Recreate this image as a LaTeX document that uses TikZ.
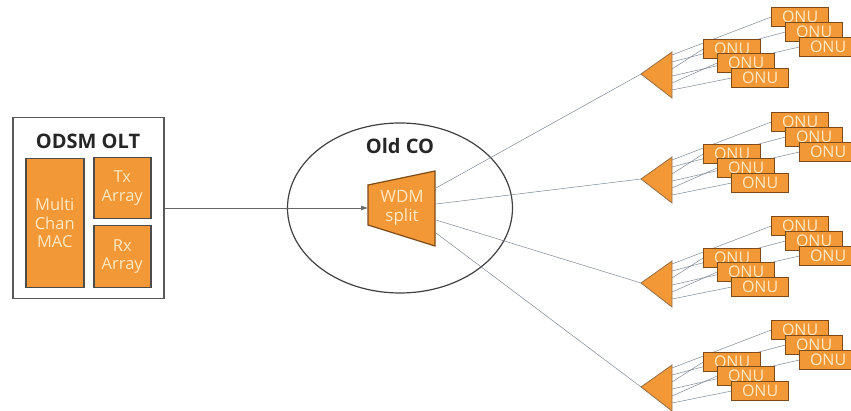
\documentclass[tikz,border=0pt]{standalone}
\usepackage{fontspec}
\setmainfont{Open Sans}
\usetikzlibrary{shapes.geometric,arrows.meta,backgrounds}
\definecolor{odsmorange}{RGB}{242,152,54}
\definecolor{odsmedge}{RGB}{125,75,25}
\definecolor{odsmtext}{RGB}{255,232,195}
\definecolor{fibregray}{RGB}{125,135,150}
\tikzset{
  blk/.style={draw=black!70, line width=1.5pt, fill=odsmorange, text=odsmtext,
    align=center, inner sep=0pt, font=\fontsize{16.5}{18.5}\selectfont},
  onu/.style={draw=odsmedge, line width=1.2pt, fill=odsmorange, text=odsmtext,
    minimum width=57, minimum height=19, inner sep=0pt, text height=11pt, text depth=0pt,
    font=\fontsize{16}{15}\selectfont},
  fibre/.style={draw=fibregray, line width=0.5pt},
  title/.style={font=\bfseries\fontsize{20}{20}\selectfont, text=black!85},
}
\begin{document}
\begin{tikzpicture}[x=1pt,y=-1pt]
  \useasboundingbox (0,0) rectangle (851,411);
  \clip (0,0) rectangle (851,411);
  % olt
  \node[draw=black!65, line width=1.5pt, minimum width=151, minimum height=181,
    anchor=north west] (olt) at (12,117) {};
  \node[title] (oltname) at (88,141) {ODSM OLT};
  \node[blk, minimum width=58, minimum height=129, anchor=north west] (mac) at (25,158) {Multi\\Chan\\MAC};
  \node[blk, minimum width=57, minimum height=61, anchor=north west] (tx) at (93,157) {Tx\\Array};
  \node[blk, minimum width=57, minimum height=62, anchor=north west] (rx) at (93,225) {Rx\\Array};
  % old co
  \node[draw=black!75, line width=1.2pt, ellipse, minimum width=225, minimum height=170] (co) at (400,208) {};
  \node[title] (coname) at (400,146) {Old CO};
  \draw[fill=odsmorange, draw=odsmedge, line width=1.2pt]
    (368,185) -- (435,171) -- (435,246) -- (368,225) -- cycle;
  \node[text=odsmtext, align=center, font=\fontsize{17}{19}\selectfont] (wdm) at (402,208) {WDM\\split};
  \coordinate (wdmin) at (368,208);
  \coordinate (w1) at (436,188);
  \coordinate (w2) at (436,204);
  \coordinate (w3) at (436,220);
  \coordinate (w4) at (436,233);
  \draw[-{Latex[length=7pt,width=5pt]}, black!60, line width=0.6pt] (olt.east |- wdmin) -- (wdmin);
  % splitters and onus
  \foreach \g/\t in {1/74,2/179,3/283,4/387} {
    \coordinate (tip\g) at (641,\t);
    \draw[fibre] (w\g) -- (tip\g);
    \draw[fill=odsmorange, draw=odsmedge!80, line width=0.8pt]
      (tip\g) -- ++(31,-22) -- ++(0,46) -- cycle;
    \foreach \k/\dx/\dy in {1/130/-67,2/144/-52,3/158/-37,4/62/-35,5/76/-21,6/90/-6}
      \node[onu, anchor=north west] (onu\g-\k) at ([shift={(\dx,\dy)}]tip\g) {ONU};
    \begin{scope}[on background layer]
      \foreach \k/\s in {1/-19,2/-12,4/-5,3/2,5/9,6/16}
        \draw[fibre] ([shift={(31,\s)}]tip\g) -- (onu\g-\k.west);
    \end{scope}
  }
\end{tikzpicture}
\end{document}
